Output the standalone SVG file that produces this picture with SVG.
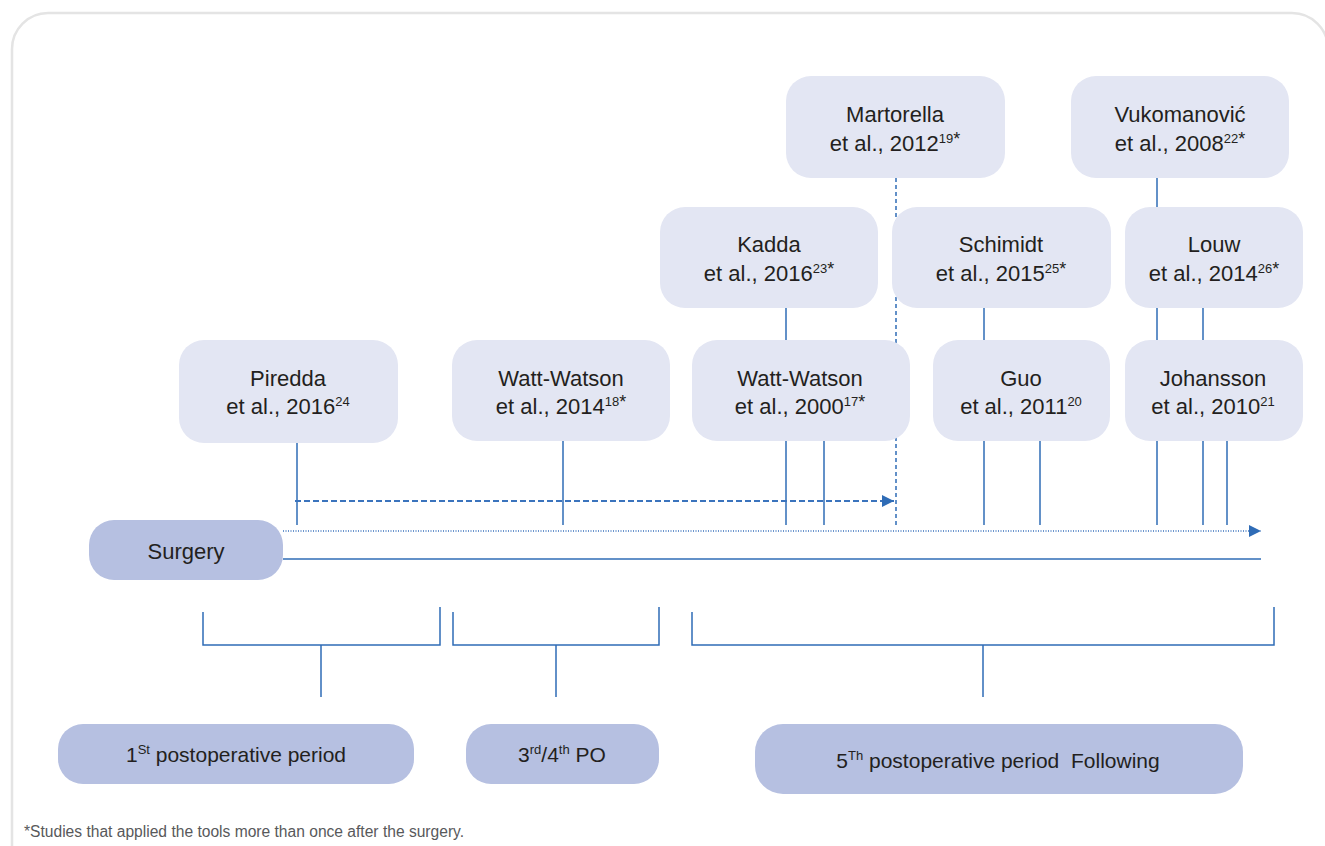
<svg xmlns="http://www.w3.org/2000/svg" width="1325" height="846" viewBox="0 0 1325 846">
<style>
.frame{fill:none;stroke:#e4e4e4;stroke-width:2.5}
.study{fill:#e3e6f3}
.period{fill:#b6c0e1}
.t{font-family:"Liberation Sans",Arial,sans-serif;font-size:22px;fill:#231f20;text-anchor:middle}
.tp{font-family:"Liberation Sans",Arial,sans-serif;font-size:21px;fill:#231f20;text-anchor:middle}
.sup{font-size:13px}
.star{font-size:18px}
.ln{stroke:#2f6cb6;stroke-width:1.5;fill:none}
.dash{stroke:#2f6cb6;stroke-width:1.5;fill:none;stroke-dasharray:4 3}
.dash2{stroke:#3b74bd;stroke-width:2;fill:none;stroke-dasharray:6 3}
.dot{stroke:#3b74bd;stroke-width:1.3;fill:none;stroke-dasharray:1 1.5}
.note{font-family:"Liberation Sans",Arial,sans-serif;font-size:15.6px;fill:#58595b}
</style>
<defs>
<marker id="arr" viewBox="0 0 10 10" refX="10" refY="5" markerWidth="16" markerHeight="12" markerUnits="userSpaceOnUse" orient="auto">
<path d="M0,0 L10,5 L0,10 z" fill="#2f6cb6"/>
</marker>
</defs>
<rect class="frame" x="12" y="13" width="1316" height="900" rx="36" ry="36"/>

<g id="connectors">
<line class="ln" x1="297" y1="443" x2="297" y2="525"/>
<line class="ln" x1="563" y1="441" x2="563" y2="525"/>
<line class="ln" x1="786" y1="308" x2="786" y2="340"/>
<line class="ln" x1="786" y1="441" x2="786" y2="525"/>
<line class="ln" x1="824" y1="441" x2="824" y2="525"/>
<line class="dash" x1="896" y1="178" x2="896" y2="525"/>
<line class="ln" x1="984" y1="308" x2="984" y2="340"/>
<line class="ln" x1="984" y1="441" x2="984" y2="525"/>
<line class="ln" x1="1040" y1="441" x2="1040" y2="525"/>
<line class="ln" x1="1157" y1="178" x2="1157" y2="207"/>
<line class="ln" x1="1157" y1="308" x2="1157" y2="340"/>
<line class="ln" x1="1203" y1="308" x2="1203" y2="340"/>
<line class="ln" x1="1157" y1="441" x2="1157" y2="525"/>
<line class="ln" x1="1203" y1="441" x2="1203" y2="525"/>
<line class="ln" x1="1227" y1="441" x2="1227" y2="525"/>
<line class="dash2" x1="295" y1="501" x2="894" y2="501" marker-end="url(#arr)"/>
<line class="dot" x1="283" y1="531" x2="1261" y2="531" marker-end="url(#arr)"/>
<line class="ln" x1="283" y1="559" x2="1261" y2="559"/>
<path class="ln" d="M203,612 V645 H440 V607 M321,645 V697"/>
<path class="ln" d="M453,612 V645 H659 V607 M556,645 V697"/>
<path class="ln" d="M692,612 V645 H1274 V607 M983,645 V697"/>
</g>

<g id="martorella">
<rect class="study" x="786" y="76" width="219" height="102" rx="25"/>
<text class="t" x="895" y="122">Martorella</text>
<text class="t" x="895" y="151">et al., 2012<tspan class="sup" dy="-8">19</tspan><tspan class="star" dy="2">*</tspan></text>
</g>
<g id="vukomanovic">
<rect class="study" x="1071" y="76" width="218" height="102" rx="25"/>
<text class="t" x="1180" y="122">Vukomanović</text>
<text class="t" x="1180" y="151">et al., 2008<tspan class="sup" dy="-8">22</tspan><tspan class="star" dy="2">*</tspan></text>
</g>
<g id="kadda">
<rect class="study" x="660" y="207" width="218" height="101" rx="25"/>
<text class="t" x="769" y="252">Kadda</text>
<text class="t" x="769" y="281">et al., 2016<tspan class="sup" dy="-8">23</tspan><tspan class="star" dy="2">*</tspan></text>
</g>
<g id="schimidt">
<rect class="study" x="892" y="207" width="219" height="101" rx="25"/>
<text class="t" x="1001" y="252">Schimidt</text>
<text class="t" x="1001" y="281">et al., 2015<tspan class="sup" dy="-8">25</tspan><tspan class="star" dy="2">*</tspan></text>
</g>
<g id="louw">
<rect class="study" x="1125" y="207" width="178" height="101" rx="25"/>
<text class="t" x="1214" y="252">Louw</text>
<text class="t" x="1214" y="281">et al., 2014<tspan class="sup" dy="-8">26</tspan><tspan class="star" dy="2">*</tspan></text>
</g>
<g id="piredda">
<rect class="study" x="179" y="340" width="219" height="103" rx="25"/>
<text class="t" x="288" y="386">Piredda</text>
<text class="t" x="288" y="414">et al., 2016<tspan class="sup" dy="-8">24</tspan></text>
</g>
<g id="watt-watson-2014">
<rect class="study" x="452" y="340" width="218" height="101" rx="25"/>
<text class="t" x="561" y="386">Watt-Watson</text>
<text class="t" x="561" y="414">et al., 2014<tspan class="sup" dy="-8">18</tspan><tspan class="star" dy="2">*</tspan></text>
</g>
<g id="watt-watson-2000">
<rect class="study" x="692" y="340" width="218" height="101" rx="25"/>
<text class="t" x="800" y="386">Watt-Watson</text>
<text class="t" x="800" y="414">et al., 2000<tspan class="sup" dy="-8">17</tspan><tspan class="star" dy="2">*</tspan></text>
</g>
<g id="guo">
<rect class="study" x="933" y="340" width="177" height="101" rx="25"/>
<text class="t" x="1021" y="386">Guo</text>
<text class="t" x="1021" y="414">et al., 2011<tspan class="sup" dy="-8">20</tspan></text>
</g>
<g id="johansson">
<rect class="study" x="1125" y="340" width="178" height="101" rx="25"/>
<text class="t" x="1213" y="386">Johansson</text>
<text class="t" x="1213" y="414">et al., 2010<tspan class="sup" dy="-8">21</tspan></text>
</g>

<g id="surgery">
<rect class="period" x="89" y="520" width="194" height="60" rx="25"/>
<text class="t" x="186" y="559">Surgery</text>
</g>
<g id="period-1">
<rect class="period" x="58" y="724" width="356" height="60" rx="25"/>
<text class="tp" x="236" y="762">1<tspan class="sup" dy="-8">St</tspan><tspan dy="8"> postoperative period</tspan></text>
</g>
<g id="period-3-4">
<rect class="period" x="466" y="724" width="193" height="60" rx="25"/>
<text class="tp" x="562" y="762">3<tspan class="sup" dy="-8">rd</tspan><tspan dy="8">/4</tspan><tspan class="sup" dy="-8">th</tspan><tspan dy="8"> PO</tspan></text>
</g>
<g id="period-5">
<rect class="period" x="755" y="724" width="488" height="70" rx="28"/>
<text class="tp" x="998" y="768" xml:space="preserve">5<tspan class="sup" dy="-8">Th</tspan><tspan dy="8"> postoperative period  Following</tspan></text>
</g>

<text class="note" x="24" y="837">*Studies that applied the tools more than once after the surgery.</text>
</svg>
